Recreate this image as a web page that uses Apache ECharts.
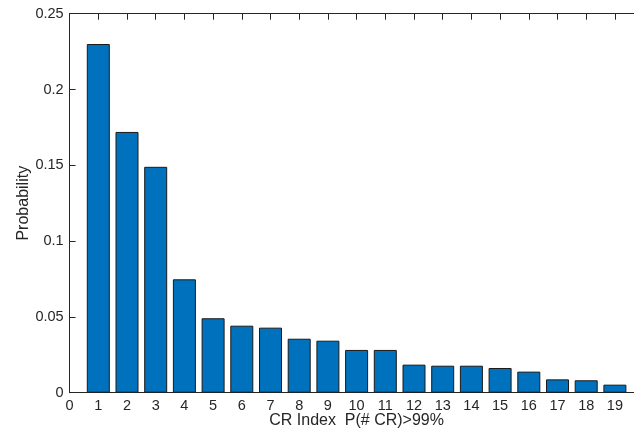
<!DOCTYPE html>
<html>
<head>
<meta charset="utf-8">
<script src="https://cdn.jsdelivr.net/npm/echarts@6/dist/echarts.min.js"></script>
<style>
html,body{margin:0;padding:0;background:#fff;}
#chart{width:634px;height:429px;}
</style>
</head>
<body>
<div id="chart"></div>
<script>
var categories = [1,2,3,4,5,6,7,8,9,10,11,12,13,14,15,16,17,18,19];
var probabilities = [0.230,0.172,0.149,0.0748,0.0491,0.0442,0.0429,0.0356,0.0343,0.0282,0.0282,0.0185,0.0178,0.0178,0.0163,0.0139,0.0088,0.0082,0.0053];
var yTicks = [0,0.05,0.1,0.15,0.2,0.25];
var xName = 'CR Index  P(# CR)>99%';
var yName = 'Probability';

var chart = echarts.init(document.getElementById('chart'), null, {renderer:'canvas'});
var axisColor = '#262626';
var font = '"Liberation Sans", Arial, sans-serif';
var data = categories.map(function(c,i){return [c, probabilities[i]];});

chart.setOption({
  animation:false,
  backgroundColor:'#ffffff',
  grid:{left:69.6, top:13.7, right:-9.6, bottom:36.3, containLabel:false, outerBoundsMode:'none'},
  xAxis:[{
    type:'value', min:0, max:20, interval:1, position:'bottom',
    name:xName, nameLocation:'middle', nameGap:20, nameMoveOverlap:false,
    nameTextStyle:{color:axisColor, fontSize:16, fontFamily:font},
    axisLine:{show:true, lineStyle:{color:axisColor, width:1}},
    axisTick:{show:true, inside:true, length:6, lineStyle:{color:axisColor}},
    axisLabel:{color:axisColor, fontSize:14.5, fontFamily:font, margin:6,
      formatter:function(v){return v>=20?'':String(v);}},
    splitLine:{show:false}
  },{
    type:'value', min:0, max:20, interval:1, position:'top',
    axisLine:{show:true, lineStyle:{color:axisColor, width:1}},
    axisTick:{show:true, inside:true, length:6, lineStyle:{color:axisColor}},
    axisLabel:{show:false},
    splitLine:{show:false}
  }],
  yAxis:{
    type:'value', min:yTicks[0], max:yTicks[yTicks.length-1], interval:0.05,
    name:yName, nameLocation:'middle', nameGap:38, nameRotate:90, nameMoveOverlap:false,
    nameTextStyle:{color:axisColor, fontSize:16, fontFamily:font},
    axisLine:{show:true, lineStyle:{color:axisColor, width:1}},
    axisTick:{show:true, inside:true, length:6, lineStyle:{color:axisColor}},
    axisLabel:{color:axisColor, fontSize:14.5, fontFamily:font, margin:6,
      formatter:function(v){return String(+v.toFixed(2));}},
    splitLine:{show:false}
  },
  series:[{
    type:'bar', xAxisIndex:0, data:data, barWidth:23,
    itemStyle:{color:'#0072BD', borderColor:'#1a1a1a', borderWidth:1}
  }]
});
</script>
</body>
</html>
